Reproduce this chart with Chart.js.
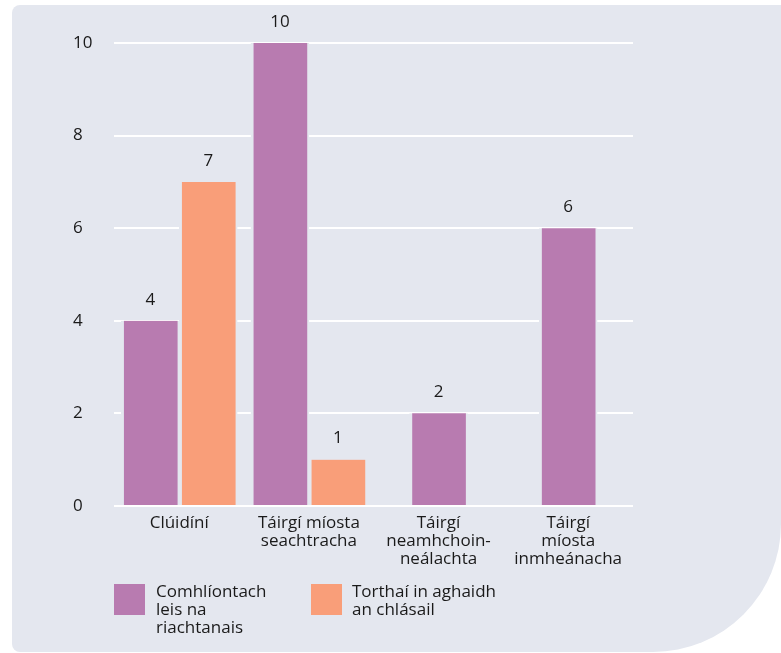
<!DOCTYPE html>
<html>
<head>
<meta charset="utf-8">
<script src="https://cdn.jsdelivr.net/npm/chart.js@4.4.1/dist/chart.umd.min.js"></script>
<style>
  html, body { margin: 0; padding: 0; background: #ffffff; width: 781px; height: 653px; overflow: hidden; }
  #panel { position: absolute; left: 12px; top: 5px; width: 769px; height: 647px; background: #e4e7ef;
           border-radius: 8px 0 128px 8px; }
  #c { position: absolute; left: 0; top: 0; }
  .leg { position: absolute; font-family: "Open Sans", sans-serif; font-size: 17px; line-height: 18px; color: #1a1a1a; }
  .box { position: absolute; width: 31px; height: 31px; }
</style>
</head>
<body>
<div id="panel"></div>
<canvas id="c" width="781" height="580"></canvas>
<div class="box" style="left:114px;top:584px;background:#b87bb0"></div>
<div class="leg" style="left:156px;top:582px;">Comhlíontach<br>leis na<br>riachtanais</div>
<div class="box" style="left:311px;top:584px;background:#f99e79"></div>
<div class="leg" style="left:352px;top:582px;">Torthaí in aghaidh<br>an chlásail</div>
<script>
const categories = [
  ["Clúidíní"],
  ["Táirgí míosta", "seachtracha"],
  ["Táirgí", "neamhchoin-", "neálachta"],
  ["Táirgí", "míosta", "inmheánacha"]
];
const seriesNames = ["Comhlíontach leis na riachtanais", "Torthaí in aghaidh an chlásail"];
const compliant = [4, 10, 2, 6];
const againstClause = [7, 1, null, null];
const yTicks = [0, 2, 4, 6, 8, 10];

const PANEL = "#e4e7ef";
const FONT = "'Open Sans', sans-serif";

const valueLabels = {
  id: "valueLabels",
  afterDatasetsDraw(chart) {
    const ctx = chart.ctx;
    ctx.save();
    ctx.font = "17px " + FONT;
    ctx.fillStyle = "#1a1a1a";
    ctx.textAlign = "center";
    ctx.textBaseline = "middle";
    chart.data.datasets.forEach((ds, i) => {
      const meta = chart.getDatasetMeta(i);
      meta.data.forEach((el, j) => {
        const v = ds.data[j];
        if (v === null || v === undefined) return;
        ctx.fillText(String(v), el.x, el.y - 21);
      });
    });
    ctx.restore();
  }
};

new Chart(document.getElementById("c"), {
  type: "bar",
  data: {
    labels: categories,
    datasets: [
      { label: seriesNames[0], data: compliant, backgroundColor: "#b87bb0" },
      { label: seriesNames[1], data: againstClause, backgroundColor: "#f99e79" }
    ]
  },
  options: {
    responsive: false,
    animation: false,
    devicePixelRatio: 1,
    skipNull: true,
    datasets: {
      bar: {
        barThickness: 58,
        borderWidth: { left: 3, right: 2, top: 0, bottom: 0 },
        borderColor: PANEL,
        borderSkipped: false
      }
    },
    layout: { padding: { left: 73, right: 148, top: 43, bottom: 12 } },
    plugins: { legend: { display: false }, tooltip: { enabled: false } },
    scales: {
      x: {
        grid: { display: false },
        border: { display: false },
        ticks: { color: "#1a1a1a", font: { family: FONT, size: 17, lineHeight: 1.06 }, padding: 0, maxRotation: 0, autoSkip: false }
      },
      y: {
        min: 0, max: 10,
        afterBuildTicks: (s) => { s.ticks = yTicks.map(v => ({ value: v })); },
        grid: { color: "#ffffff", lineWidth: 2, drawTicks: false },
        border: { display: false },
        ticks: { color: "#1a1a1a", font: { family: FONT, size: 17 }, padding: 11, crossAlign: "far" }
      }
    }
  },
  plugins: [valueLabels]
});
</script>
</body>
</html>
